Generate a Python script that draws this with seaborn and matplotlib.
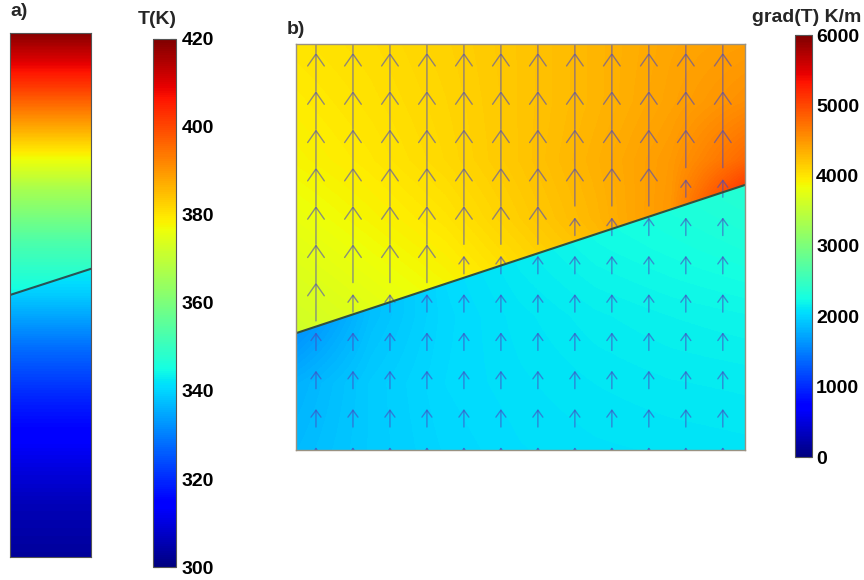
import numpy as np
import matplotlib
matplotlib.use("Agg")
import matplotlib.pyplot as plt
import seaborn as sns
from matplotlib.patches import Polygon, FancyArrowPatch
from matplotlib.colors import Normalize
from matplotlib.cm import ScalarMappable

sns.set_theme(style="white")
plt.rcParams["font.family"] = ["Liberation Sans", "DejaVu Sans"]
plt.rcParams["font.weight"] = "bold"

# ---------------- panel a data: temperature column ----------------
height_frac = [0.0, 0.1, 0.2, 0.3, 0.4, 0.5, 0.6, 0.7, 0.8, 0.9, 1.0]
T_lower = [303, 306, 312, 319, 328, 339, 347, 356, 365, 374, 383]
T_upper = [310, 317, 324, 331, 338, 344, 353, 366, 384, 402, 419]
interface_a_x = [0.0, 1.0]
interface_a_y = [0.500, 0.550]
T_ticks = [300, 320, 340, 360, 380, 400, 420]
T_range = [300, 420]

# ---------------- panel b data: temperature gradient ----------------
b_width, b_height = 12.14, 10.6
grad_upper_y = [3.0, 4.52, 6.04, 7.56, 9.08, 10.6]
grad_upper = [
    [3600, 3700, 3800, 3950, 4100, 4300, 4500],
    [3700, 3800, 3900, 4050, 4200, 4450, 4800],
    [3800, 3900, 4000, 4150, 4300, 4500, 5400],
    [3900, 3980, 4080, 4200, 4330, 4480, 4800],
    [3950, 4020, 4100, 4200, 4300, 4420, 4550],
    [4000, 4050, 4120, 4200, 4300, 4400, 4450],
]
grad_lower_y = [0.0, 1.75, 3.5, 5.25, 7.0]
grad_lower = [
    [1850, 1950, 2020, 2060, 2080, 2090, 2100],
    [1800, 1950, 2040, 2080, 2110, 2130, 2140],
    [1550, 1880, 2030, 2100, 2150, 2180, 2200],
    [1500, 1850, 2050, 2150, 2220, 2260, 2300],
    [1500, 1850, 2100, 2200, 2280, 2330, 2380],
]
interface_b_x = [0.0, 12.14]
interface_b_y = [3.05, 6.92]
arrow_x = [0.54 + k for k in range(12)]
arrow_head_y = [11.37 - j for j in range(12)]
long_arrow_len = 1.0
short_arrow_len = 0.47
short_arrow_drop = 0.30
grad_ticks = [0, 1000, 2000, 3000, 4000, 5000, 6000]
grad_range = [0, 6000]

cmap = matplotlib.colormaps["jet"]

fig = plt.figure(figsize=(8.64, 5.8), dpi=100)
W, H = 864.0, 580.0


def fax(x0, y0, x1, y1):
    return fig.add_axes([x0 / W, 1 - y1 / H, (x1 - x0) / W, (y1 - y0) / H])


def node_extent(xs, ys):
    xs, ys = np.asarray(xs, float), np.asarray(ys, float)
    dx = (xs[-1] - xs[0]) / (len(xs) - 1)
    dy = (ys[-1] - ys[0]) / (len(ys) - 1)
    return [xs[0] - dx / 2, xs[-1] + dx / 2, ys[0] - dy / 2, ys[-1] + dy / 2]


# ---------------- panel a ----------------
ax_a = fax(10, 33, 91, 557)
normT = Normalize(*T_range)
ext_a = node_extent([0.0, 1.0], height_frac)
poly_low_a = Polygon([(0, 0), (1, 0), (1, interface_a_y[1]), (0, interface_a_y[0])],
                     closed=True, transform=ax_a.transData)
poly_up_a = Polygon([(0, interface_a_y[0]), (1, interface_a_y[1]), (1, 1), (0, 1)],
                    closed=True, transform=ax_a.transData)
for vals, clip in [(T_lower, poly_low_a), (T_upper, poly_up_a)]:
    arr = np.column_stack([vals, vals])
    im = ax_a.imshow(arr, origin="lower", extent=ext_a, cmap=cmap, norm=normT,
                     interpolation="bilinear", aspect="auto")
    im.set_clip_path(clip)
ax_a.plot(interface_a_x, interface_a_y, color="#2a5254", lw=1.5)
ax_a.set_xlim(0, 1)
ax_a.set_ylim(0, 1)
ax_a.set_xticks([])
ax_a.set_yticks([])
for s in ax_a.spines.values():
    s.set_color("#555555")
    s.set_linewidth(0.8)

cax_a = fax(153, 39, 176, 567)
cb_a = fig.colorbar(ScalarMappable(norm=normT, cmap=cmap), cax=cax_a)
cb_a.set_ticks(T_ticks)
cb_a.outline.set_edgecolor("#555555")
cb_a.outline.set_linewidth(0.8)
cax_a.tick_params(axis="y", which="both", direction="in", left=True, right=True,
                  length=4, width=0.8, color="#444444", labelsize=14, pad=4,
                  labelcolor="black")

# ---------------- panel b ----------------
ax_b = fax(296, 44, 745, 450)
normG = Normalize(*grad_range)
xs_nodes = np.linspace(0, b_width, len(grad_upper[0]))
poly_low_b = Polygon([(0, 0), (b_width, 0), (b_width, interface_b_y[1]), (0, interface_b_y[0])],
                     closed=True, transform=ax_b.transData)
poly_up_b = Polygon([(0, interface_b_y[0]), (b_width, interface_b_y[1]),
                     (b_width, b_height + 1), (0, b_height + 1)],
                    closed=True, transform=ax_b.transData)
for vals, ys, clip in [(grad_lower, grad_lower_y, poly_low_b),
                       (grad_upper, grad_upper_y, poly_up_b)]:
    im = ax_b.imshow(np.asarray(vals, float), origin="lower",
                     extent=node_extent(xs_nodes, ys), cmap=cmap, norm=normG,
                     interpolation="bilinear", aspect="auto")
    im.set_clip_path(clip)
ax_b.plot(interface_b_x, interface_b_y, color="#32503f", lw=1.5)

arrow_color = "#4848c0"
slope = (interface_b_y[1] - interface_b_y[0]) / (interface_b_x[1] - interface_b_x[0])
for x in arrow_x:
    y_int = interface_b_y[0] + slope * x
    for yh in arrow_head_y:
        tail = yh - long_arrow_len
        if tail >= y_int:
            head, tl = yh, tail
            style = "->,head_length=0.86,head_width=0.6"
        else:
            head = yh - short_arrow_drop
            tl = head - short_arrow_len
            style = "->,head_length=0.5,head_width=0.36"
        if tl > b_height + 0.5 or head < -0.5:
            continue
        ar = FancyArrowPatch(posA=(x, tl), posB=(x, head), arrowstyle=style,
                             mutation_scale=10, color=arrow_color, lw=1.0,
                             alpha=0.6, shrinkA=0, shrinkB=0)
        ax_b.add_patch(ar)

ax_b.set_xlim(0, b_width)
ax_b.set_ylim(0, b_height)
ax_b.set_xticks([])
ax_b.set_yticks([])
for s in ax_b.spines.values():
    s.set_color("#9a9282")
    s.set_linewidth(1.0)

cax_b = fax(795, 35, 812, 457)
cb_b = fig.colorbar(ScalarMappable(norm=normG, cmap=cmap), cax=cax_b)
cb_b.set_ticks(grad_ticks)
cb_b.outline.set_edgecolor("#555555")
cb_b.outline.set_linewidth(0.8)
cax_b.tick_params(axis="y", which="both", direction="in", left=True, right=True,
                  length=3, width=0.8, color="#444444", labelsize=14, pad=3,
                  labelcolor="black")

# ---------------- texts ----------------
fig.text(10 / W, 1 - 12 / H, "a)", fontsize=14, fontweight="bold", ha="left", va="center")
fig.text(287 / W, 1 - 29 / H, "b)", fontsize=14, fontweight="bold", ha="left", va="center")
fig.text(157 / W, 1 - 20 / H, "T(K)", fontsize=14, fontweight="bold", ha="center", va="center")
fig.text(807 / W, 1 - 17 / H, "grad(T) K/m", fontsize=14, fontweight="bold", ha="center", va="center")

fig.savefig("out.png", dpi=100)
